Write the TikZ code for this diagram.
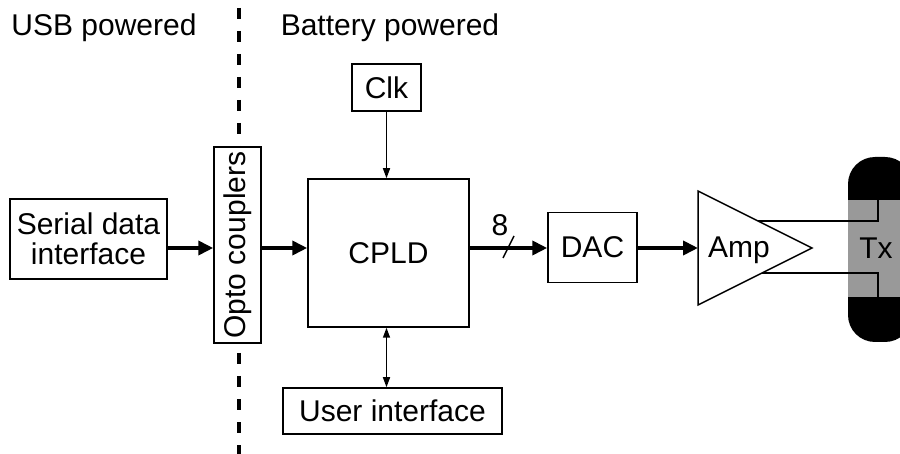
\documentclass[tikz,border=0pt]{standalone}
\usepackage{fontspec}
\setmainfont{Liberation Sans}
\usepackage{tikz}
\usetikzlibrary{arrows.meta}
\definecolor{txgrey}{RGB}{153,153,153}
\tikzset{
  blk/.style={draw,line width=1.5pt,fill=white,inner sep=2pt,align=center},
  bus/.style={line width=4pt,-{Triangle[length=15pt,width=14pt]}},
  ctl/.style={line width=1.5pt,-{Triangle[length=10pt,width=7pt]}}
}

\begin{document}
\begin{tikzpicture}[x=1pt,y=-1pt,font=\fontsize{30}{33}\selectfont]
\useasboundingbox (0,0) rectangle (900,454);
\coordinate (sig) at (0,248);
% supply boundary
\draw[line width=4pt,dash pattern=on 11pt off 12pt,dash phase=15pt](239,0)--(239,454);
\node[anchor=base] (usb) at (104,36) {USB powered};
\node[anchor=base] (bat) at (390,36) {Battery powered};
% blocks
\node[blk,minimum width=157pt,minimum height=80pt] (serial) at (88.5,239) {Serial data\\[-3pt]interface};
\node[blk,rotate=90,minimum width=196pt,minimum height=47pt,inner sep=0pt] (opto) at (237.5,245) {Opto couplers};
\node[blk,minimum width=161pt,minimum height=148pt] (cpld) at (388.5,253) {CPLD};
\node[blk,minimum width=69pt,minimum height=47pt] (clk) at (386.5,87.5) {Clk};
\node[blk,minimum width=219pt,minimum height=46pt] (ui) at (392.5,411) {User interface};
\node[blk,minimum width=89pt,minimum height=70pt] (dac) at (592.5,247.5) {DAC};
% amplifier
\coordinate (ampin) at (698,248);
\draw[line width=1.5pt](698,191)--(812,248)--(698,305)--cycle;
\node (amp) at (739,250) {Amp};
% transducer
\fill[rounded corners=27pt](848,157) rectangle (912,342);
\fill[txgrey](848,200) rectangle (912,297);
\node (tx) at (876,248) {Tx};
\draw[line width=1.5pt](758,221)--(878,221)--(878,200);
\draw[line width=1.5pt](762,273)--(878,273)--(878,297);
% connections
\draw[bus](serial.east|-sig)--(opto.north|-sig);
\draw[bus](opto.south|-sig)--(cpld.west|-sig);
\draw[bus](cpld.east|-sig)--(dac.west|-sig);
\draw[line width=1.5pt](503,258)--(514,236);
\node (nbits) at (500,225) {8};
\draw[bus](dac.east|-sig)--(ampin);
\draw[ctl](clk.south)--(clk.south|-cpld.north);
\draw[ctl,{Triangle[length=10pt,width=7pt]}-{Triangle[length=10pt,width=7pt]}](clk.south|-cpld.south)--(clk.south|-ui.north);
\end{tikzpicture}
\end{document}
